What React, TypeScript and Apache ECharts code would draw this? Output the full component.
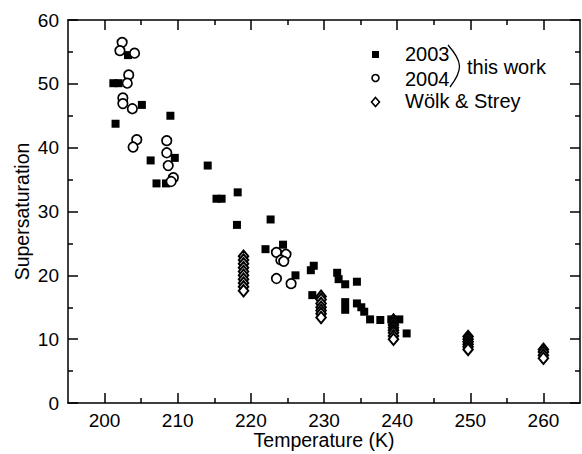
import React, { useEffect, useRef } from "react";
import * as echarts from "echarts";

const FONT = "'Liberation Sans', Arial, Helvetica, sans-serif";

// 2003 (this work) – filled squares: [T (K), supersaturation]
const data2003: [number, number][] = [
  [201.2, 50.1], [201.9, 50.1], [201.5, 43.75], [203.2, 54.5], [205.1, 46.7],
  [209.0, 45.0], [206.3, 38.0], [209.6, 38.4], [207.1, 34.4], [208.4, 34.4],
  [214.1, 37.2], [215.3, 32.0], [216.0, 32.0], [218.2, 33.0], [218.1, 27.9],
  [222.7, 28.75], [222.0, 24.1], [224.4, 24.8], [226.1, 20.0], [228.2, 20.8],
  [228.6, 21.5], [228.4, 16.9], [231.8, 20.4], [232.0, 19.4], [232.9, 18.6],
  [234.5, 19.0], [232.9, 15.8], [232.9, 14.6], [234.5, 15.6], [235.1, 15.0],
  [235.5, 14.3], [236.3, 13.1], [237.7, 13.0], [239.2, 13.1], [240.3, 13.1],
  [241.3, 10.9],
];

// 2004 (this work) – open circles
const data2004: [number, number][] = [
  [202.4, 56.5], [202.1, 55.2], [204.1, 54.8], [203.3, 51.4], [203.1, 50.1],
  [202.5, 47.8], [202.5, 46.9], [203.8, 46.1], [204.4, 41.25], [203.9, 40.1],
  [208.5, 41.1], [208.5, 39.2], [208.7, 37.2], [209.4, 35.3], [209.1, 34.7],
  [223.5, 23.6], [224.8, 23.3], [224.1, 22.4], [224.5, 22.2], [223.5, 19.5],
  [225.5, 18.7],
];

// Wölk & Strey – open diamonds
const wsT219 = [23.0, 22.4, 21.8, 21.2, 20.6, 20.0, 19.4, 18.8, 18.2, 17.6];
const wsT230 = [16.7, 16.2, 15.6, 15.0, 14.5, 14.0, 13.4];
const wsT240 = [13.0, 12.6, 12.2, 11.8, 11.4, 11.0, 10.5, 10.0];
const wsT250 = [10.4, 10.0, 9.6, 9.2, 8.8, 8.4];
const wsT260 = [8.4, 8.0, 7.5, 7.0];
const wsTemps = [219.0, 229.6, 239.5, 249.7, 260.0];
const wsValues = [wsT219, wsT230, wsT240, wsT250, wsT260];

const xMajor = [200, 210, 220, 230, 240, 250, 260];
const xMinor = [205, 215, 225, 235, 245, 255];

const dataWS: [number, number][] = [];
wsTemps.forEach((t, i) => wsValues[i].forEach((v) => dataWS.push([t, v])));

export default function App() {
  const ref = useRef<HTMLDivElement>(null);
  useEffect(() => {
    if (!ref.current) return;
    const chart = echarts.init(ref.current, null, { renderer: "svg" });
    const line = { show: true, lineStyle: { color: "#000", width: 1.5 } };
    const xBase = { type: "value", min: 195, max: 265, splitLine: { show: false } };
    const labelStyle = { color: "#000", fontSize: 19, fontFamily: FONT };
    const nameStyle = { color: "#000", fontSize: 19.5, fontFamily: FONT, lineHeight: 20 };
    chart.setOption({
      animation: false,
      backgroundColor: "#fff",
      grid: { left: 68, right: 2, top: 20, bottom: 51, containLabel: false, outerBoundsMode: "none" },
      xAxis: [
        {
          ...xBase, position: "bottom", axisLine: line,
          axisTick: { show: true, inside: true, length: 10, customValues: xMajor, lineStyle: { color: "#000", width: 1.5 } },
          axisLabel: { ...labelStyle, margin: 8, customValues: xMajor },
          name: "Temperature (K)", nameLocation: "middle", nameGap: 27, nameMoveOverlap: false,
          nameTextStyle: { ...nameStyle },
        },
        {
          ...xBase, position: "bottom", axisLine: { show: false },
          axisTick: { show: true, inside: true, length: 5, customValues: xMinor, lineStyle: { color: "#000", width: 1.5 } },
          axisLabel: { show: false },
        },
        {
          ...xBase, position: "top", axisLine: line,
          axisTick: { show: true, inside: true, length: 10, customValues: xMajor, lineStyle: { color: "#000", width: 1.5 } },
          axisLabel: { show: false },
        },
        {
          ...xBase, position: "top", axisLine: { show: false },
          axisTick: { show: true, inside: true, length: 5, customValues: xMinor, lineStyle: { color: "#000", width: 1.5 } },
          axisLabel: { show: false },
        },
      ],
      yAxis: [
        {
          type: "value", min: 0, max: 60, interval: 10, position: "left",
          axisLine: line, splitLine: { show: false },
          axisTick: { show: true, inside: true, length: 10, lineStyle: { color: "#000", width: 1.5 } },
          minorTick: { show: true, splitNumber: 2, length: 5, lineStyle: { color: "#000", width: 1.5 } },
          axisLabel: { ...labelStyle, margin: 9 },
          name: "Supersaturation", nameLocation: "middle", nameGap: 36, nameRotate: 90, nameMoveOverlap: false,
          nameTextStyle: { ...nameStyle },
        },
        {
          type: "value", min: 0, max: 60, interval: 10, position: "right",
          axisLine: line, splitLine: { show: false },
          axisTick: { show: true, inside: true, length: 10, lineStyle: { color: "#000", width: 1.5 } },
          minorTick: { show: true, splitNumber: 2, length: 5, lineStyle: { color: "#000", width: 1.5 } },
          axisLabel: { show: false },
        },
      ],
      series: [
        {
          name: "2003", type: "scatter", xAxisIndex: 0, yAxisIndex: 0,
          symbol: "rect", symbolSize: 8, data: data2003,
          itemStyle: { color: "#000", opacity: 1 }, z: 2,
        },
        {
          name: "2004", type: "scatter", xAxisIndex: 0, yAxisIndex: 0,
          symbol: "circle", symbolSize: 9.5, data: data2004,
          itemStyle: { color: "#fff", borderColor: "#000", borderWidth: 1.7, opacity: 1 }, z: 3,
        },
        {
          name: "Wölk & Strey", type: "scatter", xAxisIndex: 0, yAxisIndex: 0,
          symbol: "diamond", symbolSize: [9.5, 11.5], data: dataWS,
          itemStyle: { color: "#fff", borderColor: "#000", borderWidth: 2, opacity: 1 }, z: 4,
        },
      ],
      graphic: [
        { type: "rect", shape: { x: 372, y: 51, width: 7, height: 7 }, style: { fill: "#000" } },
        { type: "circle", shape: { cx: 375.5, cy: 78, r: 3.5 }, style: { fill: "#fff", stroke: "#000", lineWidth: 1.6 } },
        {
          type: "polygon",
          shape: { points: [[375.5, 97.5], [379.5, 102], [375.5, 106.5], [371.5, 102]] },
          style: { fill: "#fff", stroke: "#000", lineWidth: 1.6 },
        },
        { type: "text", x: 405, y: 54, style: { text: "2003", fontSize: 20, fontFamily: FONT, fill: "#000", verticalAlign: "middle" } },
        { type: "text", x: 405, y: 79, style: { text: "2004", fontSize: 20, fontFamily: FONT, fill: "#000", verticalAlign: "middle" } },
        { type: "text", x: 405, y: 101, style: { text: "Wölk & Strey", fontSize: 20, fontFamily: FONT, fill: "#000", verticalAlign: "middle" } },
        {
          type: "bezierCurve",
          shape: { x1: 448, y1: 45, x2: 450, y2: 87, cpx1: 463, cpy1: 62, cpx2: 463, cpy2: 70 },
          style: { stroke: "#000", lineWidth: 1.3, fill: "none" },
        },
        { type: "text", x: 467, y: 67, style: { text: "this work", fontSize: 20, fontFamily: FONT, fill: "#000", verticalAlign: "middle" } },
      ],
    });
    return () => chart.dispose();
  }, []);
  return <div ref={ref} style={{ width: 582, height: 454, position: "absolute", left: 0, top: 0 }} />;
}
